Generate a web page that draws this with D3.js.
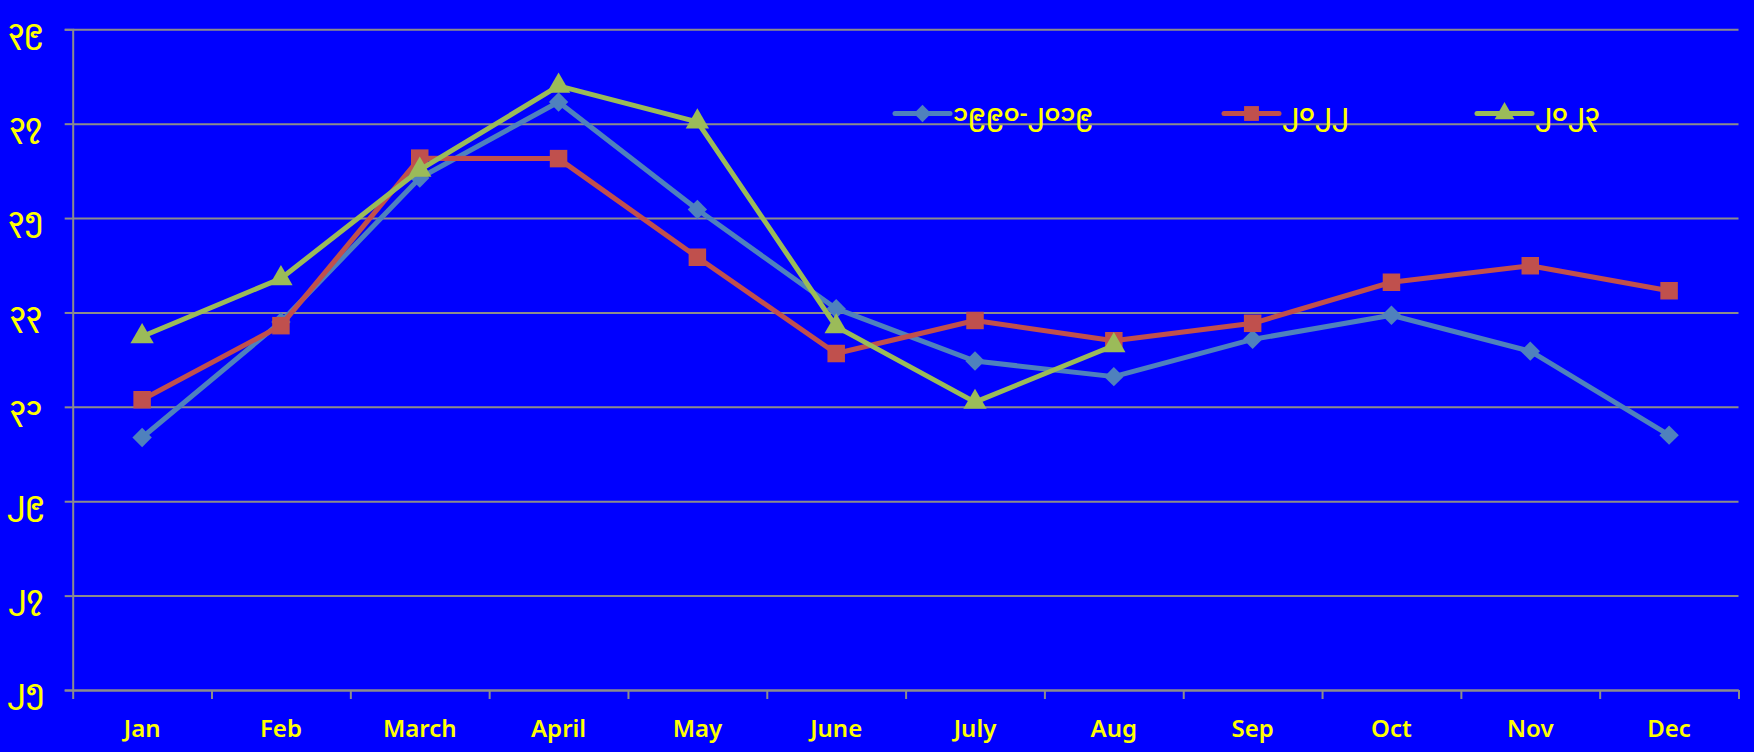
<!DOCTYPE html>
<html>
<head>
<meta charset="utf-8">
<script src="https://cdn.jsdelivr.net/npm/d3@7"></script>
<style>
html, body { margin: 0; padding: 0; background: #0000ff; }
svg { display: block; }
.grid line { stroke: #8c8c8c; stroke-width: 2; }
.grid path { display: none; }
.axis path, .axis line { stroke: #8c8c8c; stroke-width: 2; }
.ylab text, .legend text { fill: #ffff00; font-family: "Noto Sans Myanmar", "Padauk", "Myanmar3", "Noto Sans", sans-serif; font-weight: 600; }
.xlab text { fill: #ffff00; font-family: "Noto Sans", sans-serif; font-weight: 600; }
</style>
</head>
<body>
<svg id="chart" width="1754" height="752"></svg>
<script>
// ---- data ----
var months = ["Jan","Feb","March","April","May","June","July","Aug","Sep","Oct","Nov","Dec"]
var yTicks = [25,27,29,31,33,35,37,39]
var yTickLabels = ["၂၅","၂၇","၂၉","၃၁","၃၃","၃၅","၃၇","၃၉"]
var seriesNames = ["၁၉၉၀-၂၀၁၉","၂၀၂၂","၂၀၂၃"]
var avg9019 = [30.35,32.8,35.85,37.46,35.18,33.08,31.97,31.64,32.43,32.94,32.18,30.4]
var y2022 = [31.15,32.72,36.27,36.26,34.17,32.13,32.83,32.4,32.77,33.64,33.99,33.46]
var y2023 = [32.49,33.72,36.02,37.8,37.04,32.7,31.1,32.3]

var colors = ["#4f81bd","#c0504d","#9bbb59"]
var symbols = [d3.symbolDiamond2, d3.symbolSquare2, d3.symbolTriangle2]

function buildChart()
{
var left=72.7, right=1738.5, top=29.3, bottom=690
var svg=d3.select("#chart")

var x = d3.scaleBand().domain(months).range([left, right]).padding(0)
var xEdge = d3.scaleLinear().domain([0, months.length]).range([left, right])
var y = d3.scaleLinear().domain([25, 39]).range([bottom, top])

// horizontal gridlines
svg.append("g")
    .attr("class", "grid")
    .attr("transform", "translate(" + left + ",0)")
    .call(d3.axisLeft(y).tickValues(yTicks).tickSize(-(right-left)).tickFormat(""))

// y axis with ticks and labels
var yAxis = svg.append("g")
    .attr("class", "axis ylab")
    .attr("transform", "translate(" + left + ",0)")
    .call(d3.axisLeft(y).tickValues(yTicks).tickSize(8)
        .tickFormat(function(d, i) { return yTickLabels[i] }))
yAxis.selectAll("text").attr("font-size", 26).attr("text-anchor", "middle")
    .attr("x", -47).attr("dy", "0.3em")

// x axis: ticks at category edges
svg.append("g")
    .attr("class", "axis")
    .attr("transform", "translate(0," + bottom + ")")
    .call(d3.axisBottom(xEdge).tickValues(d3.range(months.length + 1)).tickSize(9).tickSizeOuter(0).tickFormat(""))

// x labels at band centres
var xLab = svg.append("g")
    .attr("class", "xlab")
    .attr("transform", "translate(0," + bottom + ")")
    .call(d3.axisBottom(x).tickSize(0))
xLab.select(".domain").remove()
xLab.selectAll("text").attr("font-size", 24).attr("dy", "0.35em").attr("y", 39)

var allSeries = [avg9019, y2022, y2023]
var line = d3.line()
    .x(function(d, i) { return x(months[i]) + x.bandwidth()/2 })
    .y(function(d) { return y(d) })

allSeries.forEach(function(vals, s) {
  var g = svg.append("g")
  g.append("path")
      .datum(vals)
      .attr("fill", "none")
      .attr("stroke", colors[s])
      .attr("stroke-width", 5)
      .attr("stroke-linejoin", "round")
      .attr("d", line)
  g.selectAll(".pt")
      .data(vals)
      .enter().append("path")
      .attr("class", "pt")
      .attr("transform", function(d, i) { return "translate(" + (x(months[i]) + x.bandwidth()/2) + "," + y(d) + ")" })
      .attr("d", d3.symbol().type(symbols[s]).size(s == 0 ? 240 : 390))
      .attr("fill", colors[s])
})

// legend
var legendX = [895, 1224, 1477], ly = 113.5
var legend = svg.append("g").attr("class", "legend")
seriesNames.forEach(function(name, s) {
  var item = legend.append("g").attr("transform", "translate(" + legendX[s] + "," + ly + ")")
  item.append("line")
      .attr("x1", 0).attr("x2", 55).attr("y1", 0).attr("y2", 0)
      .attr("stroke", colors[s]).attr("stroke-width", 5).attr("stroke-linecap", "round")
  item.append("path")
      .attr("transform", "translate(27.5,0)")
      .attr("d", d3.symbol().type(symbols[s]).size(s == 0 ? 190 : 280))
      .attr("fill", colors[s])
  item.append("text")
      .attr("x", 58).attr("y", 0).attr("dy", "0.3em")
      .attr("font-size", 24)
      .text(name)
})
}

buildChart()
</script>
</body>
</html>
